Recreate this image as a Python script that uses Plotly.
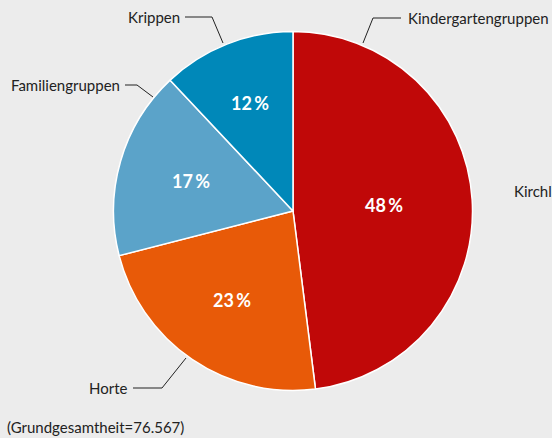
import math
import plotly.graph_objects as go

categories = ["Kindergartengruppen", "Horte", "Familiengruppen", "Krippen"]
shares = [48, 23, 17, 12]
colors = ["#c00808", "#e85a08", "#5ba3c9", "#0088b9"]
note = "(Grundgesamtheit=76.567)"
extra_label = "Kirchl"

W, H = 552, 438
FONT = "Lato, Roboto, sans-serif"
LABEL_SIZE = 15


def px(x, y):
    return x / W, 1 - y / H


# pie placement in pixels
cx, cy, R = 293, 211, 179.5
# radial position (fraction of radius) of each percentage label
label_radius = [0.51, 0.6, 0.59, 0.65]

fig = go.Figure(go.Pie(
    labels=categories,
    values=shares,
    sort=False,
    direction="clockwise",
    rotation=0,
    marker=dict(colors=colors, line=dict(color="white", width=1.5)),
    textinfo="none",
    hoverinfo="label+percent",
    showlegend=False,
    domain=dict(x=[(cx - R) / W, (cx + R) / W], y=[1 - (cy + R) / H, 1 - (cy - R) / H]),
))

annotations = []
shapes = []

# percentage labels at slice mid-angles (clockwise from 12 o'clock)
total = sum(shares)
cum = 0
for v, rf in zip(shares, label_radius):
    mid = (cum + v / 2) / total * 2 * math.pi
    cum += v
    lx = cx + rf * R * math.sin(mid)
    ly = cy - rf * R * math.cos(mid)
    ax, ay = px(lx, ly)
    annotations.append(dict(x=ax, y=ay, xref="paper", yref="paper",
                            text=f"{round(v / total * 100)}\u2009%", showarrow=False,
                            xanchor="center", yanchor="middle",
                            font=dict(family=FONT, size=18, color="white", weight="bold")))

# outer labels: (text, text x, text y, anchor, leader polyline)
labels_layout = [
    (categories[0], 406, 18, "left", [(401, 18), (373, 18), (363, 43)]),
    (categories[1], 130, 388, "right", [(133, 388), (162, 388), (186, 358)]),
    (categories[2], 122, 85, "right", [(125, 85), (137, 85), (153, 97)]),
    (categories[3], 182, 17, "right", [(185, 17), (212, 17), (223, 43)]),
]

for text, tx, ty, anchor, pts in labels_layout:
    ax, ay = px(tx, ty)
    annotations.append(dict(x=ax, y=ay, xref="paper", yref="paper", text=text,
                            showarrow=False, xanchor=anchor, yanchor="middle",
                            font=dict(family=FONT, size=LABEL_SIZE, color="#222")))
    path = "M " + " L ".join(f"{px(x, y)[0]},{px(x, y)[1]}" for x, y in pts)
    shapes.append(dict(type="path", xref="paper", yref="paper", path=path,
                       line=dict(color="#222", width=1)))

kx, ky = px(512, 191)
annotations.append(dict(x=kx, y=ky, xref="paper", yref="paper", text=extra_label,
                        showarrow=False, xanchor="left", yanchor="middle",
                        font=dict(family=FONT, size=LABEL_SIZE, color="#222")))
nx, ny = px(5, 427)
annotations.append(dict(x=nx, y=ny, xref="paper", yref="paper", text=note,
                        showarrow=False, xanchor="left", yanchor="middle",
                        font=dict(family=FONT, size=LABEL_SIZE, color="#222")))

fig.update_layout(
    width=W, height=H,
    margin=dict(l=0, r=0, t=0, b=0),
    paper_bgcolor="#ececec",
    plot_bgcolor="#ececec",
    annotations=annotations,
    shapes=shapes,
)

fig.write_html("out.html", config={"displayModeBar": False},
               post_script="document.body.style.margin='0';document.body.style.overflow='hidden';")
